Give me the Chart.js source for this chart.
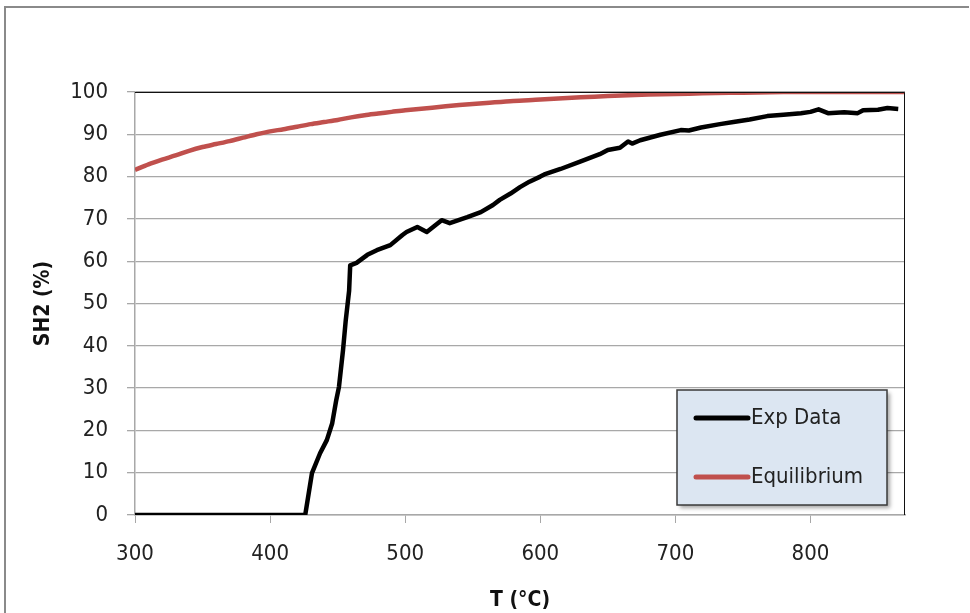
<!DOCTYPE html>
<html>
<head>
<meta charset="utf-8">
<script src="https://cdn.jsdelivr.net/npm/chart.js@4"></script>
<style>
  html, body { margin: 0; padding: 0; background: #fff; }
  #wrap { width: 970px; height: 613px; position: relative; }
</style>
</head>
<body>
<div id="wrap"><canvas id="myChart" width="970" height="613"></canvas></div>
<script>
// Temperatura (°C) y selectividad medida
var expT = [300, 426, 431, 437, 442, 446, 449, 451, 454, 456,
            458.5, 459.3, 464, 472, 479, 489, 498, 501, 509, 516,
            527, 533, 546, 556, 565, 570, 578, 585, 592, 600,
            603, 615, 630, 644, 650, 659, 665, 668, 674, 689,
            704, 710, 719, 733, 743, 755, 768, 780, 793, 800,
            806, 813, 825, 835, 839, 850, 857, 865];
var expSH2 = [0, 0, 9.9, 14.6, 17.7, 21.7, 27.2, 30.3, 39, 46,
              53, 59, 59.6, 61.5, 62.6, 63.8, 66.2, 66.9, 68.1, 66.9,
              69.7, 69.0, 70.4, 71.6, 73.3, 74.5, 76, 77.5, 78.8, 80,
              80.5, 81.8, 83.6, 85.3, 86.3, 86.8, 88.3, 87.8, 88.6, 89.9,
              91, 90.9, 91.6, 92.4, 92.9, 93.5, 94.3, 94.6, 95, 95.3,
              95.9, 95, 95.2, 95, 95.7, 95.8, 96.2, 96];

// Curva de equilibrio
var eqT = [300, 310, 320, 330, 340, 350, 360, 370, 380, 390,
           400, 410, 420, 430, 440, 450, 460, 470, 480, 490,
           500, 520, 540, 560, 580, 600, 620, 640, 660, 680,
           700, 720, 740, 760, 780, 800, 870];
var eqSH2 = [81.6, 82.9, 84.0, 85.0, 86.1, 87.0, 87.7, 88.4, 89.2, 90.0,
             90.7, 91.2, 91.8, 92.4, 92.9, 93.4, 94.0, 94.5, 94.9, 95.3,
             95.7, 96.3, 96.9, 97.4, 97.9, 98.2, 98.6, 98.9, 99.2, 99.4,
             99.5, 99.7, 99.8, 99.9, 100, 100, 100];

var xTicks = [300, 400, 500, 600, 700, 800];
var seriesNames = ['Exp Data', 'Equilibrium'];

var FONT = '"DejaVu Sans Condensed", "Liberation Sans Narrow", "Open Sans", sans-serif';
var GRID = '#a8a8a8';

function toPoints(xs, ys) {
    return xs.map(function (x, i) { return { x: x, y: ys[i] }; });
}

// Marco exterior, borde del área de trazado y leyenda dentro del gráfico
var framePlugin = {
    id: 'frame',
    beforeDraw: function (chart) {
        var ctx = chart.ctx;
        ctx.save();
        ctx.strokeStyle = '#8a8a8a';
        ctx.lineWidth = 2;
        ctx.beginPath();
        ctx.moveTo(5, 620);
        ctx.lineTo(5, 7);
        ctx.lineTo(969, 7);
        ctx.stroke();
        ctx.restore();
    },
    afterDatasetsDraw: function (chart) {
        var ctx = chart.ctx, a = chart.chartArea;
        ctx.save();
        ctx.strokeStyle = '#111';
        ctx.lineWidth = 1;
        ctx.beginPath();
        ctx.moveTo(a.left, a.top + 0.5);
        ctx.lineTo(a.right - 0.5, a.top + 0.5);
        ctx.lineTo(a.right - 0.5, a.bottom);
        ctx.stroke();

        // leyenda
        var bx = 677, by = 390, bw = 210, bh = 115;
        ctx.shadowColor = 'rgba(0,0,0,0.35)';
        ctx.shadowBlur = 4;
        ctx.shadowOffsetX = 3;
        ctx.shadowOffsetY = 3;
        ctx.fillStyle = '#dce6f2';
        ctx.fillRect(bx, by, bw, bh);
        ctx.shadowColor = 'transparent';
        ctx.strokeStyle = '#3a3a3a';
        ctx.lineWidth = 1.5;
        ctx.strokeRect(bx, by, bw, bh);

        var rows = [418, 477];
        chart.data.datasets.forEach(function (ds, i) {
            ctx.strokeStyle = ds.borderColor;
            ctx.lineWidth = 5;
            ctx.lineCap = 'round';
            ctx.beginPath();
            ctx.moveTo(696, rows[i]);
            ctx.lineTo(748, rows[i]);
            ctx.stroke();
            ctx.fillStyle = '#222';
            ctx.font = '22px ' + FONT;
            ctx.textBaseline = 'middle';
            ctx.textAlign = 'left';
            ctx.fillText(ds.label, 751, rows[i]);
        });
        ctx.restore();
    }
};

var config = {
    type: 'line',
    data: {
        datasets: [{
            label: seriesNames[0],
            data: toPoints(expT, expSH2),
            borderColor: '#000000',
            borderWidth: 4.5,
            borderJoinStyle: 'round',
            pointRadius: 0,
            tension: 0
        }, {
            label: seriesNames[1],
            data: toPoints(eqT, eqSH2),
            borderColor: '#c0504d',
            borderWidth: 4.5,
            pointRadius: 0,
            tension: 0.3
        }]
    },
    options: {
        responsive: false,
        animation: false,
        layout: { padding: { top: 92, right: 65, left: 0, bottom: 0 } },
        plugins: {
            legend: { display: false },
            tooltip: { enabled: false }
        },
        scales: {
            x: {
                type: 'linear',
                min: 300,
                max: 870,
                afterFit: function (s) { s.height = 98; },
                afterBuildTicks: function (s) {
                    s.ticks = xTicks.map(function (v) { return { value: v }; });
                },
                ticks: { color: '#222', padding: 18, font: { family: FONT, size: 22 } },
                grid: { drawOnChartArea: false, drawTicks: true, tickLength: 8, color: GRID, lineWidth: 1 },
                border: { color: GRID, width: 1.5 },
                title: {
                    display: true, text: 'T (°C)', color: '#111',
                    font: { family: FONT, size: 21, weight: 'bold' },
                    padding: { top: 0, bottom: 0 }
                }
            },
            y: {
                min: 0,
                max: 100,
                afterFit: function (s) { s.width = 135; },
                ticks: { stepSize: 10, color: '#222', padding: 19, font: { family: FONT, size: 22 } },
                grid: { color: GRID, lineWidth: 1.3, tickLength: 8 },
                border: { color: GRID, width: 1.5 },
                title: {
                    display: true, text: 'SH2 (%)', color: '#111',
                    font: { family: FONT, size: 21, weight: 'bold' },
                    padding: { top: 31, bottom: 0 }
                }
            }
        }
    },
    plugins: [framePlugin]
};

var myChart = new Chart(document.getElementById('myChart'), config);
</script>
</body>
</html>
